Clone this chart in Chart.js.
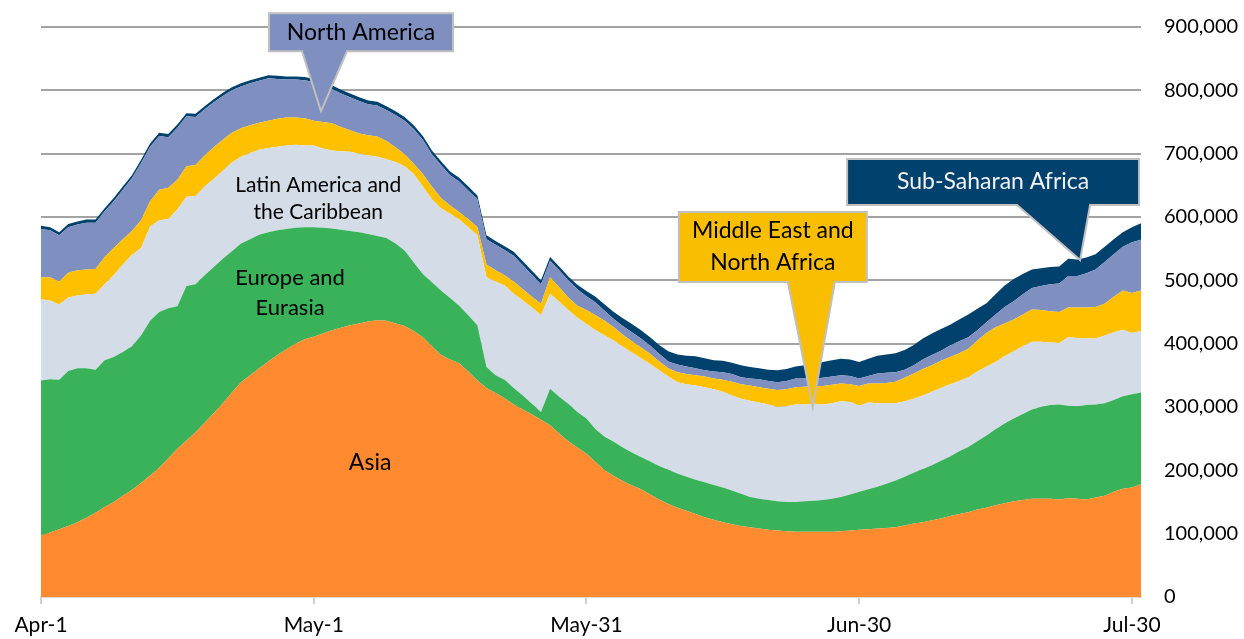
<!DOCTYPE html>
<html lang="en">
<head>
    <meta charset="UTF-8">
    <title>Daily values by region</title>
    <script src="https://cdn.jsdelivr.net/npm/chart.js@4.4.1/dist/chart.umd.min.js"></script>
    <style>
        body {
            margin: 0;
            padding: 0;
            background: #ffffff;
        }
        #wrap {
            width: 1244px;
            height: 639px;
            position: relative;
        }
    </style>
</head>
<body>

<div id="wrap">
    <canvas id="regionChart"></canvas>
</div>

<script>
    // Days on the x axis: Apr-1 ... Jul-31
    const monthLengths = [['Apr', 30], ['May', 31], ['Jun', 30], ['Jul', 31]];
    const days = [];
    monthLengths.forEach(([m, n]) => {
        for (let d = 1; d <= n; d++) days.push(m + '-' + d);
    });

    const xTickLabels = ['Apr-1', 'May-1', 'May-31', 'Jun-30', 'Jul-30'];

    // Series values, in thousands (bottom of the stack first)
    const asia = [97,102,107,112,118,125,133,142,150,160,
        169,180,192,204,219,234,247,260,275,290,
        306,323,339,350,361,372,382,391,400,407,
        411,416,421,425,429,432,435,437,436,432,
        428,420,410,396,382,375,369,356,342,330,
        322,314,304,296,288,280,271,258,246,236,
        226,213,200,191,183,176,170,162,154,147,
        141,136,131,126,122,118,115,112,110,108,
        106,105,104,103,103,103,103,103,104,105,
        106,107,108,109,110,113,116,118,121,124,
        128,131,134,138,141,145,148,151,153,155,
        155,155,154,156,155,154,157,160,166,171,
        173,178];

    const europe = [245,242,236,245,243,236,226,232,229,227,
        227,233,244,246,237,225,244,234,233,231,
        228,223,219,215,211,204,197,190,183,177,
        173,167,161,155,149,144,138,133,131,126,
        119,108,100,101,102,97,91,89,87,33,
        28,29,26,22,17,12,58,58,59,56,
        56,52,53,54,53,52,51,52,53,54,
        54,54,54,55,55,55,53,51,48,47,
        47,46,46,47,48,49,50,52,54,57,
        60,63,66,70,74,77,80,84,87,91,
        94,99,103,108,114,120,126,131,136,141,
        145,148,150,146,146,149,147,146,145,146,
        147,145];

    const latam = [128,124,119,116,115,117,120,120,129,138,
        144,138,149,145,141,153,141,139,140,139,
        139,140,137,136,134,133,132,132,131,129,
        129,125,123,124,125,124,124,125,124,129,
        133,140,138,131,130,133,136,139,142,142,
        148,149,149,150,152,153,150,150,148,149,
        149,156,160,160,159,158,156,154,151,147,
        144,146,149,150,151,151,150,150,152,152,
        151,149,151,154,153,153,151,151,151,146,
        136,137,132,127,122,119,117,116,116,115,
        114,111,110,110,109,106,106,106,107,107,
        103,99,97,108,108,105,104,107,107,105,
        97,97];

    const mena = [35,37,36,39,40,39,39,43,43,40,
        38,44,40,48,49,47,48,49,49,50,
        49,47,45,44,43,43,44,44,43,43,
        39,42,43,38,34,32,32,32,29,23,
        19,16,20,20,16,13,12,13,13,20,
        18,16,19,18,17,18,26,23,20,19,
        22,24,23,21,19,18,17,16,14,13,
        16,16,16,17,17,19,22,23,24,24,
        25,27,27,27,28,28,29,29,28,28,
        31,30,31,32,34,37,40,42,42,43,
        43,44,45,49,53,55,52,50,50,51,
        50,49,49,47,48,49,50,50,56,62,
        63,64];

    const northAmerica = [76,74,73,72,72,74,73,72,74,78,
        83,90,86,85,80,82,79,76,73,71,
        69,67,66,66,66,67,63,60,60,60,
        61,58,54,53,52,51,49,49,49,51,
        53,55,54,51,52,48,48,45,44,40,
        40,40,41,38,35,31,26,27,27,26,
        22,20,16,13,14,14,14,13,12,11,
        12,12,11,10,11,12,12,11,11,13,
        12,12,13,14,13,12,13,13,13,13,
        12,12,16,16,15,13,13,15,16,16,
        18,19,18,16,17,20,26,29,32,34,
        38,43,45,50,50,54,59,66,67,69,
        80,80];

    const subSaharan = [5,5,5,5,5,5,5,5,5,5,
        5,5,5,5,5,5,5,5,5,5,
        5,5,5,5,5,5,5,5,5,5,
        5,6,6,6,6,6,6,6,6,6,
        6,6,6,6,6,6,6,6,6,6,
        6,6,6,6,6,6,6,6,6,7,
        8,9,10,11,12,13,13,13,14,16,
        16,17,19,19,18,18,18,19,18,17,
        18,19,19,19,21,23,25,26,26,26,
        26,27,28,29,30,31,32,33,34,34,
        33,34,36,34,30,32,34,35,32,29,
        28,27,27,27,26,25,24,24,24,23,
        24,26];

    const seriesNames = ['Asia', 'Europe and Eurasia', 'Latin America and the Caribbean',
        'Middle East and North Africa', 'North America', 'Sub-Saharan Africa'];
    const seriesValues = [asia, europe, latam, mena, northAmerica, subSaharan];
    const seriesColors = ['#FF8A2F', '#3AB25A', '#D4DCE8', '#FFC000', '#7F8FC0', '#00416E'];

    // Text placed on the areas (day index, value)
    const areaLabels = [
        { lines: ['Latin America and', 'the Caribbean'], day: 30.5, value: 629000, size: 21, gap: 27 },
        { lines: ['Europe and', 'Eurasia'], day: 27.4, value: 480000, size: 22, gap: 30 },
        { lines: ['Asia'], day: 36.2, value: 213000, size: 23, gap: 0 }
    ];

    // Callouts: tip at (day, value), box and pointer base relative to the tip in px
    const callouts = [
        { lines: ['North America'], day: 30.8, value: 767000, fill: '#7F8FC0', text: '#000000',
          box: [-52, -98, 132, -60], base: [-19, 26], gap: 0 },
        { lines: ['Middle East and', 'North Africa'], day: 84.9, value: 300000, fill: '#FABE00', text: '#000000',
          box: [-134, -195, 54, -125], base: [-25, 22], gap: 32 },
        { lines: ['Sub-Saharan Africa'], day: 114.3, value: 532000, fill: '#00416E', text: '#F2F2F2',
          box: [-233, -101, 59, -55], base: [-63, 10], gap: 0 }
    ];

    const labelPlugin = {
        id: 'labelPlugin',
        afterDatasetsDraw(chart) {
            const ctx = chart.ctx;
            const xs = chart.scales.x;
            const ys = chart.scales.y;
            ctx.save();
            ctx.textAlign = 'center';
            ctx.textBaseline = 'middle';

            areaLabels.forEach(l => {
                const cx = xs.getPixelForValue(l.day);
                const cy = ys.getPixelForValue(l.value);
                ctx.font = l.size + 'px Lato';
                ctx.fillStyle = '#000000';
                l.lines.forEach((t, i) => {
                    ctx.fillText(t, cx, cy + (i - (l.lines.length - 1) / 2) * l.gap);
                });
            });

            callouts.forEach(c => {
                const tx = xs.getPixelForValue(c.day);
                const ty = ys.getPixelForValue(c.value);
                const [l, t, r, b] = c.box;
                ctx.beginPath();
                ctx.moveTo(tx + l, ty + t);
                ctx.lineTo(tx + r, ty + t);
                ctx.lineTo(tx + r, ty + b);
                ctx.lineTo(tx + c.base[1], ty + b);
                ctx.lineTo(tx, ty);
                ctx.lineTo(tx + c.base[0], ty + b);
                ctx.lineTo(tx + l, ty + b);
                ctx.closePath();
                ctx.fillStyle = c.fill;
                ctx.fill();
                ctx.lineWidth = 2;
                ctx.strokeStyle = '#C0C0C0';
                ctx.stroke();

                ctx.font = '23px Lato';
                ctx.fillStyle = c.text;
                const cx = tx + (l + r) / 2;
                const cy = ty + (t + b) / 2;
                c.lines.forEach((s, i) => {
                    ctx.fillText(s, cx, cy + (i - (c.lines.length - 1) / 2) * c.gap);
                });
            });
            ctx.restore();
        }
    };

    Chart.defaults.font.family = 'Lato';
    Chart.defaults.color = '#000000';

    const ctx = document.getElementById('regionChart').getContext('2d');
    const regionChart = new Chart(ctx, {
        type: 'line',
        data: {
            labels: days,
            datasets: seriesValues.map((vals, i) => ({
                label: seriesNames[i],
                data: vals.map(v => v * 1000),
                backgroundColor: seriesColors[i],
                borderColor: seriesColors[i],
                borderWidth: 0,
                pointRadius: 0,
                tension: 0,
                fill: i === 0 ? 'origin' : '-1'
            }))
        },
        options: {
            responsive: true,
            maintainAspectRatio: false,
            animation: false,
            layout: {
                padding: { top: 27, left: 41, right: 0, bottom: 0 }
            },
            plugins: {
                legend: { display: false },
                tooltip: { enabled: false }
            },
            scales: {
                x: {
                    grid: {
                        drawOnChartArea: false,
                        drawTicks: true,
                        tickLength: 7,
                        lineWidth: 2,
                        color: c => xTickLabels.includes(days[c.index]) ? '#D0D0D0' : 'rgba(0,0,0,0)'
                    },
                    border: { display: true, color: '#D9D9D9', width: 2 },
                    ticks: {
                        autoSkip: false,
                        maxRotation: 0,
                        padding: 9,
                        font: { size: 21 },
                        color: '#000000',
                        callback: (v, i) => xTickLabels.includes(days[i]) ? days[i] : ''
                    },
                    afterFit: s => { s.height = 42; }
                },
                y: {
                    position: 'right',
                    stacked: true,
                    min: 0,
                    max: 900000,
                    grid: {
                        drawTicks: true,
                        tickLength: 19,
                        tickColor: 'rgba(0,0,0,0)',
                        lineWidth: 2,
                        color: c => c.tick && c.tick.value === 0 ? 'rgba(0,0,0,0)' : '#A3A3A3'
                    },
                    border: { display: false },
                    ticks: {
                        stepSize: 100000,
                        padding: 4,
                        font: { size: 20 },
                        color: '#000000',
                        callback: v => v.toLocaleString('en-US')
                    },
                    afterFit: s => { s.width = 103; }
                }
            }
        },
        plugins: [labelPlugin]
    });
</script>

</body>
</html>
